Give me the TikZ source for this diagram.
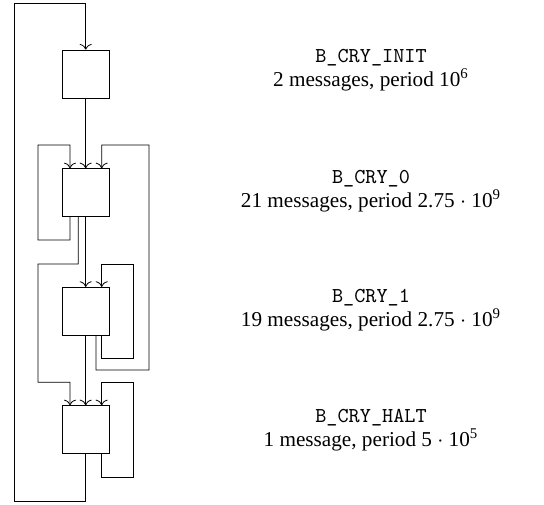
\documentclass[tikz,border=0pt]{standalone}
\usepackage{fontspec}
\setmainfont{Liberation Serif}
\usetikzlibrary{arrows.meta}
\begin{document}
\begin{tikzpicture}[x=0.5pt,y=-0.5pt,line width=0.4pt,
  box/.style={draw, minimum width=23.5pt, minimum height=24pt, inner sep=0pt},
  lbl/.style={align=center, font=\fontsize{10.6}{12}\selectfont},
  arr/.style={-{Computer Modern Rightarrow[width=6pt,length=2.8pt]}}]
\useasboundingbox (0,0) rectangle (544,504);
\node[box] (b1) at (85.7,74) {};
\node[box] (b2) at (85.7,192.7) {};
\node[box] (b3) at (85.7,311.3) {};
\node[box] (b4) at (85.7,429.7) {};
\node[lbl] (t1) at (371,70) {\texttt{B\_CRY\_INIT}\\2 messages, period 10\textsuperscript{6}};
\node[lbl] (t2) at (371,191) {\texttt{B\_CRY\_0}\\21 messages, period 2.75~$\cdot$~10\textsuperscript{9}};
\node[lbl] (t3) at (371,310) {\texttt{B\_CRY\_1}\\19 messages, period 2.75~$\cdot$~10\textsuperscript{9}};
\node[lbl] (t4) at (371,430) {\texttt{B\_CRY\_HALT}\\1 message, period 5~$\cdot$~10\textsuperscript{5}};
% b4 -> b1 (outer loop)
\draw[arr] (b4.south) -- (85.7,501) -- (14,501) -- (14,3) -- (85.7,3) -- (b1.north);
% b1 -> b2
\draw[arr] (b1.south) -- (b2.north);
% b2 self loop (left)
\draw[arr] ([xshift=-7.85pt]b2.south) -- (70,240) -- (38,240) -- (38,145) -- (70,145) -- ([xshift=-7.85pt]b2.north);
% b3 -> b2
\draw[arr] ([xshift=5.15pt]b3.south) -- (96,370) -- (149,370) -- (149,145) -- (101.7,145) -- ([xshift=8pt]b2.north);
% b2 -> b3
\draw[arr] (b2.south) -- (b3.north);
% b2 -> b4
\draw[arr] ([xshift=-3.7pt]b2.south) -- (78.3,264) -- (38,264) -- (38,382.3) -- (70,382.3) -- ([xshift=-7.85pt]b4.north);
% b3 self loop (right)
\draw[arr] ([xshift=8pt]b3.south) -- (101.7,358.3) -- (133.3,358.3) -- (133.3,264) -- (101.7,264) -- ([xshift=8pt]b3.north);
% b3 -> b4
\draw[arr] (b3.south) -- (b4.north);
% b4 self loop (right)
\draw[arr] ([xshift=8pt]b4.south) -- (101.7,477.3) -- (133.3,477.3) -- (133.3,382.7) -- (101.7,382.7) -- ([xshift=8pt]b4.north);
\end{tikzpicture}
\end{document}
